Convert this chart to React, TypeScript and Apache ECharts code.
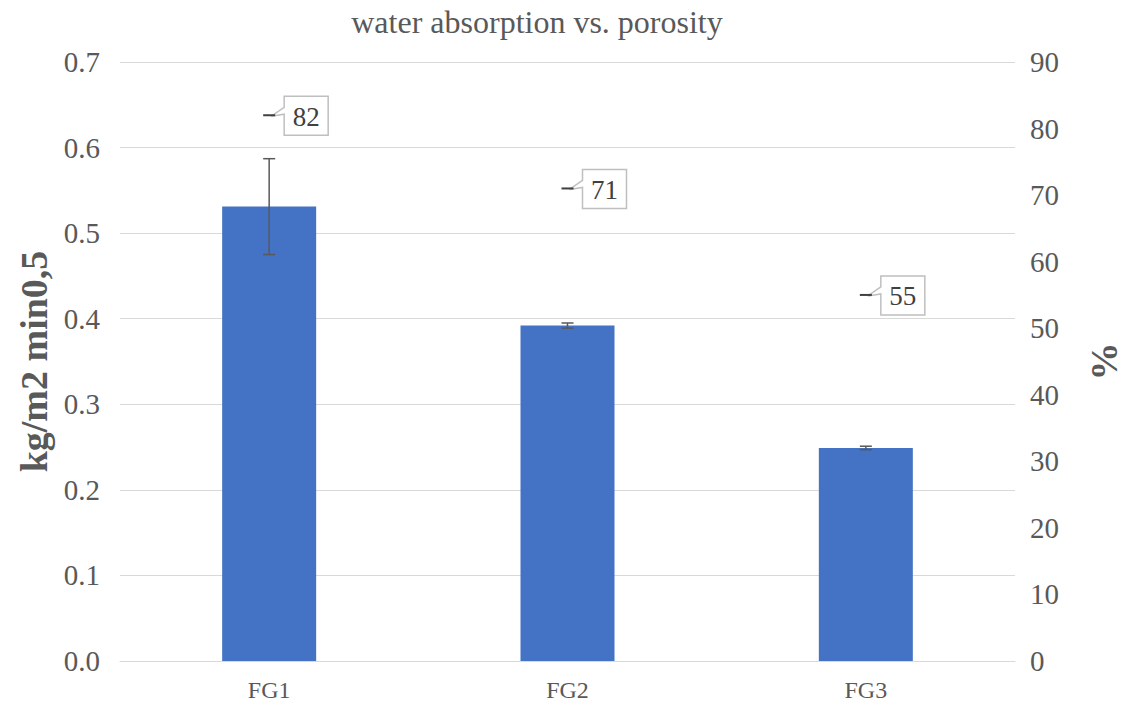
import React, { useEffect, useRef } from "react";
import * as echarts from "echarts";

const categories = ["FG1", "FG2", "FG3"];
const absorption = [0.531, 0.392, 0.249];
const absorptionErr = [0.056, 0.003, 0.002];
const porosity = [82, 71, 55];
const leftTicks = [0, 0.1, 0.2, 0.3, 0.4, 0.5, 0.6, 0.7];

const FONT = "'Liberation Serif', 'Times New Roman', serif";

export default function App() {
  const ref = useRef<HTMLDivElement>(null);
  useEffect(() => {
    if (!ref.current) return;
    const chart = echarts.init(ref.current, null, { renderer: "svg" });
    const option: any = {
      animation: false,
      backgroundColor: "#ffffff",
      title: {
        text: "water absorption vs. porosity",
        left: 532,
        top: 1,
        textAlign: "center",
        textStyle: { fontFamily: FONT, fontSize: 32, fontWeight: "normal", color: "#595959" },
      },
      grid: { left: 120, right: 117, top: 62, bottom: 44 },
      xAxis: {
        type: "category",
        data: categories,
        axisLine: { lineStyle: { color: "#d9d9d9", width: 1 } },
        axisTick: { show: false },
        axisLabel: { fontFamily: FONT, fontSize: 24, color: "#595959", margin: 17 },
      },
      yAxis: [
        {
          type: "value",
          min: 0,
          max: leftTicks[leftTicks.length - 1],
          interval: 0.1,
          name: "kg/m2 min0,5",
          nameLocation: "middle",
          nameRotate: 90,
          nameGap: 67,
          nameTextStyle: { fontFamily: FONT, fontSize: 38, fontWeight: "bold", color: "#595959" },
          axisLine: { show: false },
          axisTick: { show: false },
          axisLabel: {
            fontFamily: FONT,
            fontSize: 29,
            color: "#595959",
            margin: 20,
            formatter: (v: number) => v.toFixed(1),
          },
          splitLine: { lineStyle: { color: "#d9d9d9", width: 1 } },
        },
        {
          type: "value",
          min: 0,
          max: 90,
          interval: 10,
          position: "right",
          name: "%",
          nameLocation: "middle",
          nameRotate: 90,
          nameGap: 70,
          nameTextStyle: { fontFamily: FONT, fontSize: 38, fontWeight: "bold", color: "#595959" },
          axisLine: { show: false },
          axisTick: { show: false },
          axisLabel: { fontFamily: FONT, fontSize: 29, color: "#595959", margin: 15 },
          splitLine: { show: false },
        },
      ],
      series: [
        {
          type: "bar",
          data: absorption,
          barWidth: 94,
          itemStyle: { color: "#4472c4" },
          yAxisIndex: 0,
        },
        {
          type: "custom",
          yAxisIndex: 0,
          data: absorption.map((v, i) => [i, v, absorptionErr[i]]),
          renderItem: (params: any, api: any) => {
            const i = api.value(0);
            const v = api.value(1);
            const e = api.value(2);
            const top = api.coord([i, v + e]);
            const bot = api.coord([i, v - e]);
            const x = top[0];
            const cap = 6;
            const style = { stroke: "#595959", lineWidth: 1.5 };
            return {
              type: "group",
              children: [
                { type: "line", shape: { x1: x, y1: top[1], x2: x, y2: bot[1] }, style },
                { type: "line", shape: { x1: x - cap, y1: top[1], x2: x + cap, y2: top[1] }, style },
                { type: "line", shape: { x1: x - cap, y1: bot[1], x2: x + cap, y2: bot[1] }, style },
              ],
            };
          },
          z: 5,
        },
        {
          type: "custom",
          yAxisIndex: 1,
          data: porosity.map((v, i) => [i, v]),
          renderItem: (params: any, api: any) => {
            const i = api.value(0);
            const v = api.value(1);
            const p = api.coord([i, v]);
            const px = p[0];
            const py = p[1];
            const bx = px + 15;
            const bw = 44;
            const by = py - 19;
            const bh = 39;
            return {
              type: "group",
              children: [
                {
                  type: "polygon",
                  shape: {
                    points: [
                      [bx, by],
                      [bx + bw, by],
                      [bx + bw, by + bh],
                      [bx, by + bh],
                      [bx, py - 1],
                      [px + 2, py + 1],
                      [bx, py - 8],
                    ],
                  },
                  style: { fill: "#ffffff", stroke: "#bfbfbf", lineWidth: 1.5 },
                },
                {
                  type: "line",
                  shape: { x1: px - 6, y1: py, x2: px + 6, y2: py },
                  style: { stroke: "#404040", lineWidth: 2 },
                },
                {
                  type: "text",
                  style: {
                    text: String(v),
                    x: bx + bw / 2,
                    y: by + bh / 2 + 1,
                    align: "center",
                    verticalAlign: "middle",
                    fontFamily: FONT,
                    fontSize: 27,
                    fill: "#404040",
                  },
                },
              ],
            };
          },
          z: 6,
        },
      ],
    };
    chart.setOption(option);
    return () => chart.dispose();
  }, []);
  return (
    <div
      ref={ref}
      style={{ position: "fixed", left: 0, top: 0, width: 1132, height: 705, background: "#fff" }}
    />
  );
}
